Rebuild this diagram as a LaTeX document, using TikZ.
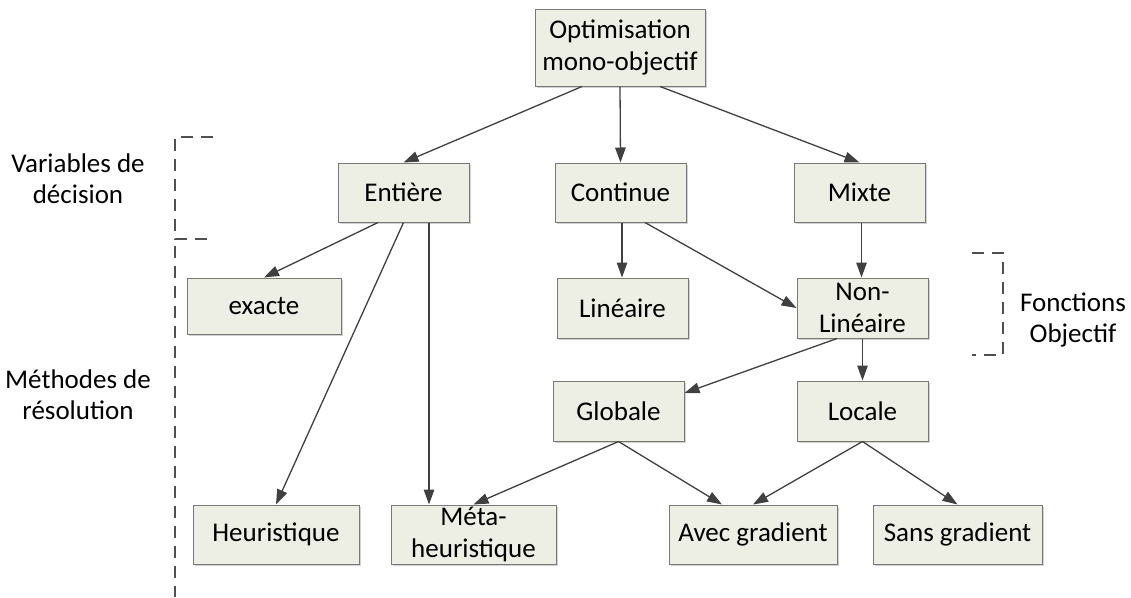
\documentclass[tikz,border=0pt]{standalone}
\usepackage{fontspec}
\setmainfont{Carlito}
\usetikzlibrary{arrows.meta,shadows}
\definecolor{boxfill}{RGB}{237,239,228}
\definecolor{boxline}{RGB}{120,120,120}
\definecolor{linkcol}{RGB}{64,64,64}
\definecolor{bracecol}{RGB}{80,80,80}
\tikzset{
  box/.style={draw=boxline, line width=1pt, fill=boxfill, rectangle,
    inner sep=0pt, align=center,
    font=\fontsize{27}{32}\selectfont,
    drop shadow={shadow xshift=1.5pt, shadow yshift=-1.5pt, fill=black!35, opacity=0.5}},
  link/.style={draw=linkcol, line width=1.3pt,
    -{Triangle[length=15pt,width=10.5pt,fill=linkcol]}},
  bracket/.style={draw=bracecol, line width=1.2pt, dash pattern=on 12pt off 8pt},
  label/.style={align=center, inner sep=0pt, font=\fontsize{27}{31}\selectfont}
}
\begin{document}
\begin{tikzpicture}[x=1pt,y=-1pt]
\useasboundingbox (0,0) rectangle (1131,597);

% main problem
\node[box, minimum width=170pt, minimum height=77pt] (top) at (620,47.5) {Optimisation\\mono-objectif};

% decision variables
\node[box, minimum width=131pt, minimum height=59pt] (ent)  at (403.5,192.5) {Entière};
\node[box, minimum width=131pt, minimum height=59pt] (cont) at (620.5,192.5) {Continue};
\node[box, minimum width=131pt, minimum height=59pt] (mix)  at (859.5,192.5) {Mixte};

% second level
\node[box, minimum width=154pt, minimum height=56pt] (exa)    at (264,306)   {exacte};
\node[box, minimum width=131pt, minimum height=60pt] (lin)    at (622.5,308) {Linéaire};
\node[box, minimum width=131pt, minimum height=60pt] (nonlin) at (862.5,308) {Non-\\Linéaire};

% third level
\node[box, minimum width=131pt, minimum height=60pt] (glob) at (618.5,411) {Globale};
\node[box, minimum width=131pt, minimum height=60pt] (loc)  at (862.5,411) {Locale};

% resolution methods
\node[box, minimum width=166pt, minimum height=59pt] (heur) at (276,534.5)   {Heuristique};
\node[box, minimum width=165pt, minimum height=59pt] (meta) at (473.5,534.5) {Méta-\\heuristique};
\node[box, minimum width=168pt, minimum height=59pt] (avec) at (753,534.5)   {Avec gradient};
\node[box, minimum width=169pt, minimum height=59pt] (sans) at (957.5,534.5) {Sans gradient};

% side labels
\node[label] (lvar) at (78,179) {Variables de\\décision};
\node[label] (lmet) at (78,395) {Méthodes de\\résolution};
\node[label] (lfon) at (1073,320) {Fonctions\\Objectif};

% connectors
\coordinate (t1) at ([xshift=-38pt]top.south);
\coordinate (t3) at ([xshift=40pt]top.south);
\coordinate (e1) at ([xshift=-25.5pt]ent.south);
\coordinate (e3) at ([xshift=25.5pt]ent.south);
\coordinate (c1) at ([xshift=1.5pt]cont.south);
\coordinate (c2) at ([xshift=24.5pt]cont.south);
\coordinate (m1) at ([xshift=2pt]mix.south);
\coordinate (n1) at ([xshift=-25.5pt]nonlin.south);
\coordinate (g1) at ([yshift=18pt]glob.east);
\coordinate (a1) at ([xshift=-31pt]avec.north);

\draw[link] (t1) -- (ent.north);
\draw[link] (top.south) -- (cont.north);
\draw[link] (t3) -- (mix.north);
\draw[link] (e1) -- (exa.north);
\draw[link] (ent.south) -- (heur.north);
\draw[link] (e3) -- (e3 |- meta.north);
\draw[link] (c1) -- (c1 |- lin.north);
\draw[link] (c2) -- (nonlin.west);
\draw[link] (m1) -- (m1 |- nonlin.north);
\draw[link] (n1) -- (g1);
\draw[link] (nonlin.south) -- (loc.north);
\draw[link] (glob.south) -- (meta.north);
\draw[link] (glob.south) -- (a1);
\draw[link] (loc.south) -- (avec.north);
\draw[link] (loc.south) -- (sans.north);

% grouping brackets
\coordinate (b1) at (213,137);
\coordinate (b2) at (175,137);
\coordinate (b3) at (175,239);
\coordinate (b4) at (213,239);
\draw[bracket] (b1) -- (b2) -- (b3) -- (b4);
\coordinate (b5) at (175,246);
\coordinate (b6) at (175,597);
\draw[bracket] (b5) -- (b6);
\coordinate (r1) at (972,253);
\coordinate (r2) at (1003,253);
\coordinate (r3) at (1003,355);
\coordinate (r4) at (972,355);
\draw[bracket] (r1) -- (r2) -- (r3) -- (r4);
\end{tikzpicture}
\end{document}
